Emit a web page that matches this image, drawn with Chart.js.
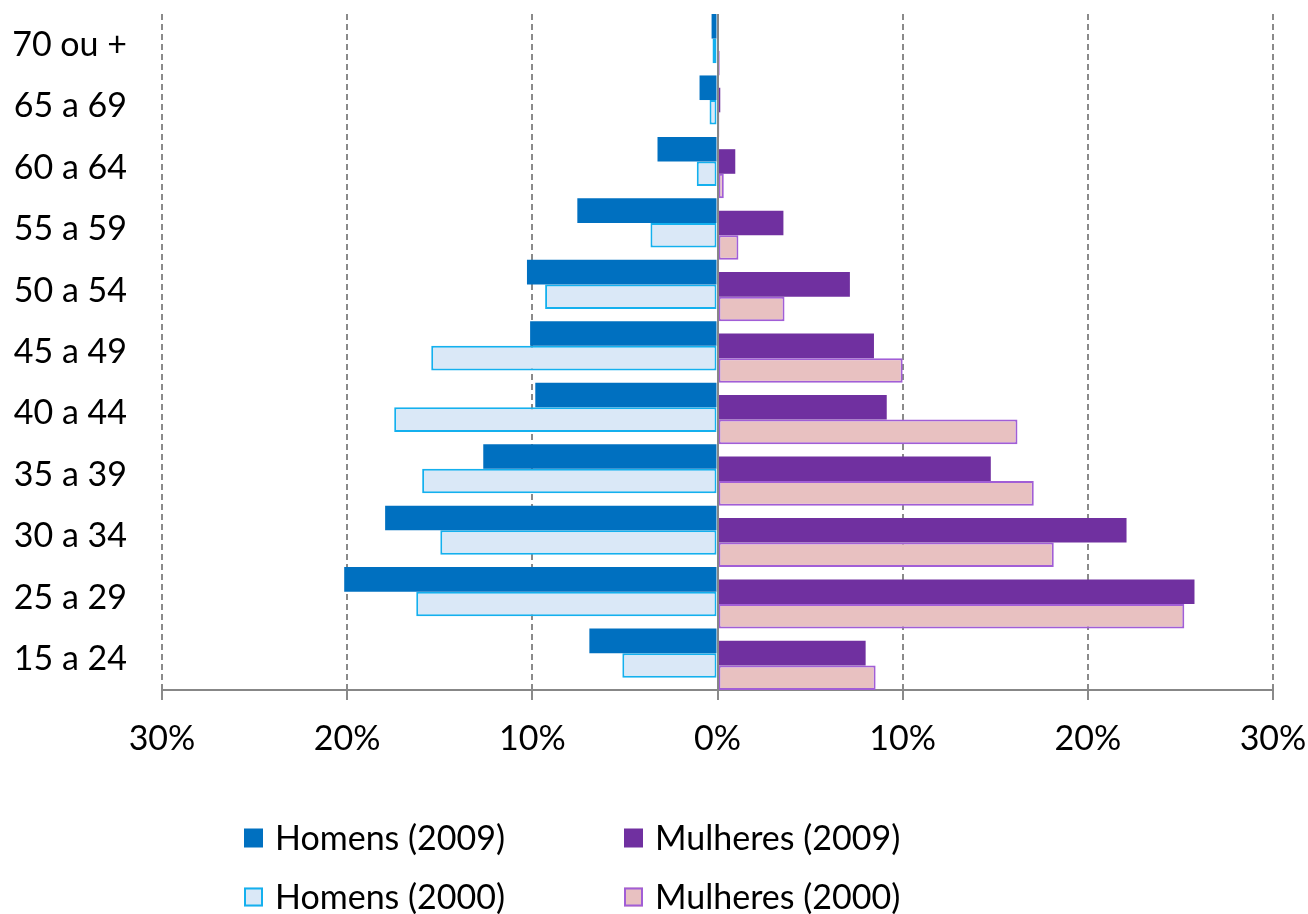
<!DOCTYPE html>
<html lang="pt">
<head>
<meta charset="utf-8">
<title>Pirâmide etária – 2000 e 2009</title>
<script src="https://cdn.jsdelivr.net/npm/chart.js@4.4.1/dist/chart.umd.min.js"></script>
<style>
  html, body { margin: 0; padding: 0; background: #ffffff; }
  #wrap { position: relative; width: 1308px; height: 914px; }
</style>
</head>
<body>
<div id="wrap"><canvas id="chart" width="1308" height="914"></canvas></div>
<script>
// Faixas etárias, de baixo para cima
const faixas = ['15 a 24', '25 a 29', '30 a 34', '35 a 39', '40 a 44', '45 a 49',
                '50 a 54', '55 a 59', '60 a 64', '65 a 69', '70 ou +'];

// Percentual da população em cada faixa
const homens2009   = [6.92, 20.16, 17.95, 12.65, 9.84, 10.12, 10.29, 7.57, 3.24, 0.97, 0.32];
const homens2000   = [5.14, 16.27, 14.97, 15.95, 17.46, 15.46, 9.31, 3.62, 1.12, 0.43, 0.27];
const mulheres2009 = [8.00, 25.76, 22.09, 14.76, 9.14, 8.45, 7.15, 3.56, 0.96, 0.15, 0.08];
const mulheres2000 = [8.54, 25.21, 18.16, 17.08, 16.20, 10.00, 3.62, 1.13, 0.34, 0.10, 0.12];

// Marcas do eixo horizontal (em %)
const marcasX = [-30, -20, -10, 0, 10, 20, 30];

const FONT = 'Lato, "Open Sans", "DejaVu Sans", sans-serif';
const GRID = '#8a8a8a';

// Homens à esquerda (valores negativos), mulheres à direita
const pontos = (vals, sinal) => vals.map((v, i) => ({ x: sinal * v, y: i }));

const integerTicks = scale => { scale.ticks = faixas.map((_, i) => ({ value: i })); };

// Eixo de índice oculto, deslocado para posicionar cada série dentro da faixa
const eixoOculto = inicio => ({
  type: 'linear', display: false, offset: false,
  min: inicio, max: inicio + faixas.length,
  afterBuildTicks: integerTicks
});

// Linha vertical sólida no zero
const eixoZero = {
  id: 'eixoZero',
  afterDatasetsDraw(chart) {
    const { ctx, chartArea, scales } = chart;
    const x0 = Math.round(scales.x.getPixelForValue(0));
    ctx.save();
    ctx.strokeStyle = '#878787';
    ctx.lineWidth = 2;
    ctx.beginPath();
    ctx.moveTo(x0, chartArea.top);
    ctx.lineTo(x0, chartArea.bottom);
    ctx.stroke();
    ctx.restore();
  }
};

// Legenda em duas colunas (2009 na primeira linha, 2000 na segunda)
const legendaGrade = {
  id: 'legendaGrade',
  afterDraw(chart, args, opts) {
    const { ctx } = chart;
    const ds = chart.data.datasets;
    ctx.save();
    ctx.font = `${opts.size}px ${FONT}`;
    ctx.textBaseline = 'middle';
    ctx.textAlign = 'left';
    opts.order.forEach((idx, k) => {
      const d = ds[idx];
      const col = k % 2, row = Math.floor(k / 2);
      const bx = opts.cols[col], cy = opts.rows[row];
      const s = opts.box;
      ctx.fillStyle = d.backgroundColor;
      ctx.fillRect(bx, cy - s / 2, s, s);
      if (d.borderWidth) {
        ctx.strokeStyle = d.borderColor;
        ctx.lineWidth = 2;
        ctx.strokeRect(bx + 1, cy - s / 2 + 1, s - 2, s - 2);
      }
      ctx.fillStyle = '#000000';
      ctx.fillText(d.label, bx + s + 12, cy + 1);
    });
    ctx.restore();
  }
};

const barra = { grouped: false, categoryPercentage: 0.4, barPercentage: 1.0, borderSkipped: false };

new Chart(document.getElementById('chart'), {
  type: 'bar',
  data: {
    datasets: [
      Object.assign({ label: 'Homens (2009)', data: pontos(homens2009, -1),
        backgroundColor: '#0070c0', borderWidth: 0, xAxisID: 'x', yAxisID: 'yH09' }, barra),
      Object.assign({ label: 'Homens (2000)', data: pontos(homens2000, -1),
        backgroundColor: '#dae8f7', borderColor: '#14b0ee', borderWidth: 2, xAxisID: 'x', yAxisID: 'yH00' }, barra),
      Object.assign({ label: 'Mulheres (2009)', data: pontos(mulheres2009, 1),
        backgroundColor: '#7030a0', borderWidth: 0, xAxisID: 'x', yAxisID: 'yM09' }, barra),
      Object.assign({ label: 'Mulheres (2000)', data: pontos(mulheres2000, 1),
        backgroundColor: '#e8c1c1', borderColor: '#a15ed6', borderWidth: 2, xAxisID: 'x', yAxisID: 'yM00' }, barra)
    ]
  },
  plugins: [eixoZero, legendaGrade],
  options: {
    indexAxis: 'y',
    responsive: false,
    animation: false,
    layout: { padding: { top: 14, right: 35, left: 0, bottom: 0 } },
    plugins: {
      legend: { display: false },
      tooltip: { enabled: false },
      legendaGrade: { order: [0, 2, 1, 3], cols: [244, 624], rows: [838, 897], box: 19, size: 34 }
    },
    scales: {
      x: {
        type: 'linear',
        position: 'bottom',
        min: -30, max: 30,
        afterBuildTicks: s => { s.ticks = marcasX.map(v => ({ value: v })); },
        afterFit: s => { s.height = 224; s.paddingLeft = 0; s.paddingRight = 0; },
        grid: {
          color: c => (c.tick && c.tick.value === 0) ? 'rgba(0,0,0,0)' : GRID,
          lineWidth: 2,
          drawTicks: true,
          tickLength: 10,
          tickColor: GRID,
          tickWidth: 2
        },
        border: { display: true, color: '#878787', width: 2, dash: [6, 4] },
        ticks: {
          padding: 19,
          color: '#000000',
          font: { family: FONT, size: 34 },
          callback: v => Math.abs(v) + '%'
        }
      },
      // eixo só com os rótulos das faixas
      y: {
        type: 'linear',
        position: 'left',
        offset: false,
        min: -0.5, max: 10.5,
        afterBuildTicks: integerTicks,
        afterFit: s => { s.width = 162; s.paddingTop = 0; s.paddingBottom = 0; },
        grid: { display: false, drawTicks: false, tickLength: 0, offset: false },
        border: { display: false },
        ticks: {
          padding: 35,
          color: '#000000',
          font: { family: FONT, size: 34 },
          callback: v => faixas[v]
        }
      },
      yH09: eixoOculto(-0.8),
      yH00: eixoOculto(-0.4),
      yM09: eixoOculto(-0.6),
      yM00: eixoOculto(-0.2)
    }
  }
});
</script>
</body>
</html>
